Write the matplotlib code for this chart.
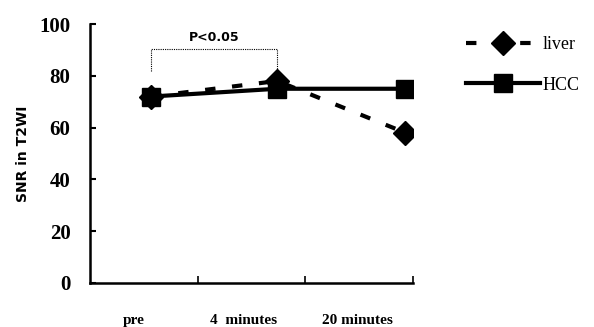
import numpy as np
import matplotlib.pyplot as plt

# data
groups = ['pre', '4  minutes', '20 minutes']
x_pos = [0.57, 1.74, 2.93]          # where the markers sit inside each group slot
label_pos = [0.41, 1.43, 2.48]
liver = [72, 78, 58]
hcc = [72, 75, 75]
yticks = [0, 20, 40, 60, 80, 100]

fig = plt.figure(figsize=(5.94, 3.27), dpi=100)
ax = fig.add_axes([90/594, 44/327, 323/594, 259/327])

ax.plot(x_pos, liver, linestyle=(0, (2.5, 4)), color='black', lw=3,
        marker='D', ms=12, mfc='black', mec='black', label='liver', zorder=3)
ax.plot(x_pos, hcc, linestyle='-', color='black', lw=3,
        marker='s', ms=13, mfc='black', mec='black', label='HCC', zorder=4)

ax.set_xlim(0, 3)
ax.set_ylim(0, 100)
ax.set_yticks(yticks)
ax.set_yticklabels([str(v) for v in yticks], fontfamily='Liberation Serif',
                   fontweight='bold', fontsize=15)
ax.tick_params(axis='y', direction='in', length=4, width=1.5, pad=14)
ax.set_xticks([1, 2, 3])
ax.set_xticklabels([])
ax.tick_params(axis='x', direction='in', length=5, width=1.2)
for i, g in enumerate(groups):
    ax.text(label_pos[i], -0.145, g, transform=ax.get_xaxis_transform(),
            ha='center', va='center', fontfamily='Liberation Serif',
            fontweight='bold', fontsize=11)

for s in ['top', 'right']:
    ax.spines[s].set_visible(False)
for s in ['left', 'bottom']:
    ax.spines[s].set_linewidth(1.8)

ax.set_ylabel('SNR in T2WI', fontfamily='DejaVu Sans', fontweight='bold',
              fontsize=10)
ax.yaxis.set_label_coords(-0.185, 0.5)

# significance bracket between pre and 4 minutes
ax.plot([x_pos[0], x_pos[0], x_pos[1], x_pos[1]], [82, 90.5, 90.5, 82],
        color='black', lw=0.8, ls=(0, (1, 1)), clip_on=False)
ax.text((x_pos[0] + x_pos[1]) / 2, 94.6, 'P<0.05', ha='center', va='center',
        fontfamily='DejaVu Sans', fontweight='bold', fontsize=9)

fig.legend(loc='upper left', bbox_to_anchor=(450/594, 1 - 20/327),
           frameon=False, handlelength=4.1, handletextpad=0.15,
           labelspacing=1.3, prop={'family': 'Liberation Serif', 'size': 13})

fig.savefig('out.png', dpi=100)
